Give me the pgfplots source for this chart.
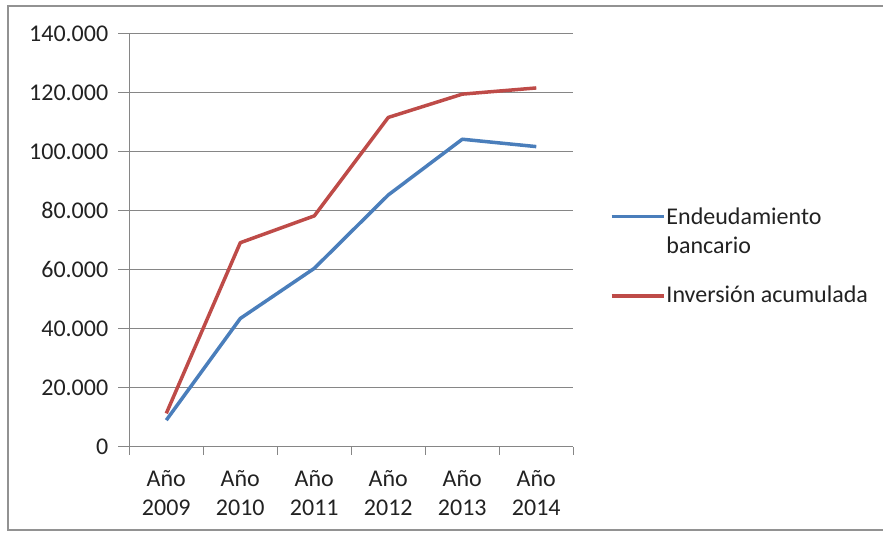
\documentclass[border=0pt]{standalone}
\usepackage{fontspec}
\setmainfont{Carlito}
\usepackage{pgfplots}
\pgfplotsset{compat=1.18}
\definecolor{blueline}{HTML}{4A7EBB}
\definecolor{redline}{HTML}{BE4B48}
\definecolor{gridgray}{HTML}{868686}
\definecolor{txt}{HTML}{222222}
\pgfplotsset{
  flatlegend/.style={legend image code/.code={\draw[##1] (0pt,0pt) -- (26pt,0pt);}},
  raisedlegend/.style={legend image code/.code={\draw[##1] (0pt,8pt) -- (26pt,8pt);}},
}
\begin{document}
\begin{tikzpicture}[x=1pt,y=1pt]
\path[use as bounding box] (0,0) rectangle (441.5,268);
\draw[gridgray!90, line width=1pt] (445,3) -- (4,3) -- (4,265) -- (445,265);
\begin{axis}[
  at={(64.65pt,44.65pt)}, anchor=south west,
  scale only axis, width=222pt, height=206.35pt,
  xmin=-0.5, xmax=5.5, ymin=0, ymax=140000,
  ytick={0,20000,...,140000},
  xtick={0,...,5},
  xticklabels={{Año\\2009},{Año\\2010},{Año\\2011},{Año\\2012},{Año\\2013},{Año\\2014}},
  minor xtick={-0.5,0.5,...,5.5},
  axis x line*=bottom, axis y line*=left,
  axis line style={gridgray, line width=0.5pt, -},
  ymajorgrids, grid style={gridgray, line width=0.5pt},
  tick align=outside, major tick length=5.5pt, minor tick length=4pt,
  tick style={gridgray, line width=0.5pt},
  major x tick style={draw=none},
  scaled y ticks=false,
  /pgf/number format/assume math mode=true,
  yticklabel={\pgfmathprintnumber[fixed,1000 sep={.}]{\tick}},
  ticklabel style={font=\fontsize{12}{14.5}\selectfont, text=txt},
  xticklabel style={align=center, yshift=-3pt},
  yticklabel style={xshift=-1.5pt},
  legend style={at={(1.0817,0.4597)}, anchor=west, draw=none, fill=none,
    inner sep=0pt, row sep=10.5pt, font=\fontsize{12}{14.5}\selectfont,
    text=txt, nodes={align=left, inner xsep=0.5pt}},
  legend cell align=left,
  flatlegend,
  line join=round,
]
\addplot[blueline, line width=1.75pt, raisedlegend]
  coordinates {(0,9000) (1,43500) (2,60500) (3,85400) (4,104300) (5,101800)};
\addlegendentry{Endeudamiento\\bancario}
\addplot[redline, line width=1.75pt] coordinates {(0,11300) (1,69200) (2,78300) (3,111700) (4,119600) (5,121700)};
\addlegendentry{Inversión acumulada}
\end{axis}
\end{tikzpicture}
\end{document}
